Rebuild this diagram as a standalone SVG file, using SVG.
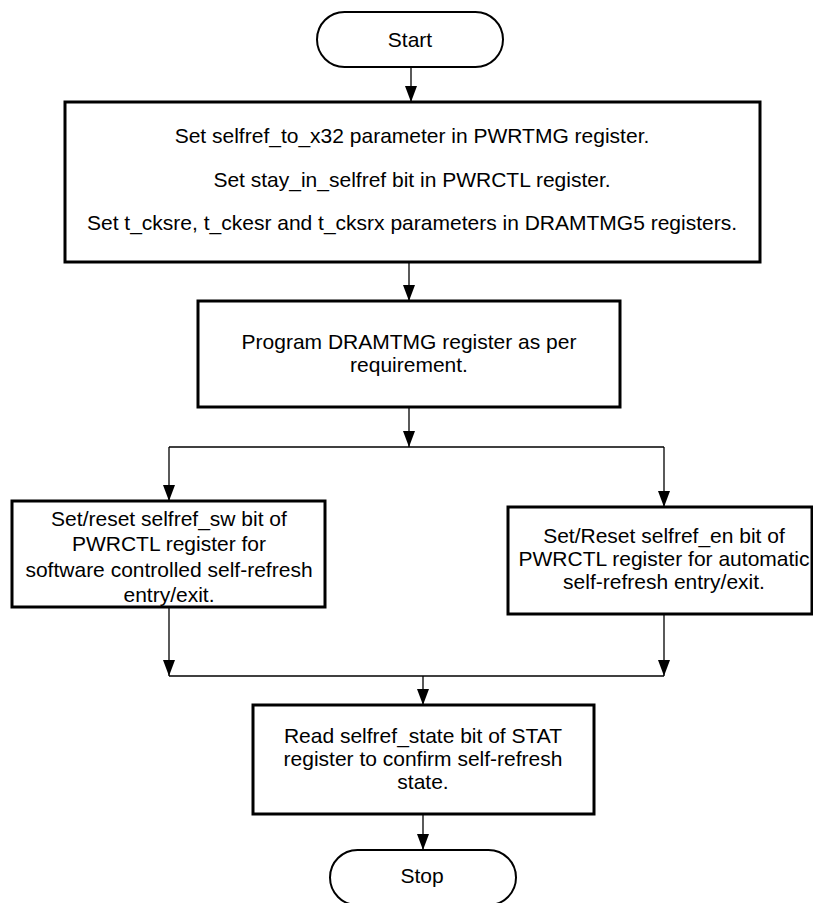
<svg xmlns="http://www.w3.org/2000/svg" width="813" height="903" viewBox="0 0 813 903">
<style>
.box{fill:#fff;stroke:#000;stroke-width:3}
.term{fill:#fff;stroke:#000;stroke-width:2}
.t{font-family:"Liberation Sans",Arial,sans-serif;font-size:21px;fill:#000;text-anchor:middle}
.c{fill:none;stroke:#000;stroke-width:1.3}
</style>
<defs>
<marker id="ah" markerWidth="16" markerHeight="12" refX="16" refY="6" orient="auto" markerUnits="userSpaceOnUse" viewBox="0 0 16 12">
<path d="M0,0 L16,6 L0,12 z" fill="#000"/>
</marker>
</defs>
<g id="connectors">
<line class="c" x1="411" y1="67" x2="411" y2="102" marker-end="url(#ah)"/>
<line class="c" x1="409" y1="262" x2="409" y2="301" marker-end="url(#ah)"/>
<line class="c" x1="409" y1="407" x2="409" y2="447" marker-end="url(#ah)"/>
<line class="c" x1="169" y1="447" x2="664" y2="447"/>
<line class="c" x1="169" y1="447" x2="169" y2="501" marker-end="url(#ah)"/>
<line class="c" x1="664" y1="447" x2="664" y2="507" marker-end="url(#ah)"/>
<line class="c" x1="169" y1="607" x2="169" y2="676" marker-end="url(#ah)"/>
<line class="c" x1="664" y1="614" x2="664" y2="676" marker-end="url(#ah)"/>
<line class="c" x1="169" y1="676" x2="664" y2="676"/>
<line class="c" x1="423" y1="676" x2="423" y2="705" marker-end="url(#ah)"/>
<line class="c" x1="423" y1="814" x2="423" y2="850" marker-end="url(#ah)"/>
</g>
<g id="start">
<rect class="term" x="317" y="12" width="186" height="55" rx="27.5" ry="27.5"/>
<text class="t" x="410" y="47">Start</text>
</g>
<g id="box1">
<rect class="box" x="65" y="102" width="695" height="160"/>
<text class="t" x="412" y="143">Set selfref_to_x32 parameter in PWRTMG register.</text>
<text class="t" x="412" y="187">Set stay_in_selfref bit in PWRCTL register.</text>
<text class="t" x="412" y="230">Set t_cksre, t_ckesr and t_cksrx parameters in DRAMTMG5 registers.</text>
</g>
<g id="box2">
<rect class="box" x="198" y="301" width="422" height="106"/>
<text class="t" x="409" y="349">Program DRAMTMG register as per</text>
<text class="t" x="409" y="372">requirement.</text>
</g>
<g id="box3">
<rect class="box" x="12" y="501" width="313" height="106"/>
<text class="t" x="169" y="526">Set/reset selfref_sw bit of</text>
<text class="t" x="169" y="551">PWRCTL register for</text>
<text class="t" x="169" y="577">software controlled self-refresh</text>
<text class="t" x="169" y="602">entry/exit.</text>
</g>
<g id="box4">
<rect class="box" x="508" y="507" width="304" height="107"/>
<text class="t" x="664" y="543">Set/Reset selfref_en bit of</text>
<text class="t" x="664" y="566">PWRCTL register for automatic</text>
<text class="t" x="664" y="589">self-refresh entry/exit.</text>
</g>
<g id="box5">
<rect class="box" x="253" y="705" width="341" height="109"/>
<text class="t" x="423" y="743">Read selfref_state bit of STAT</text>
<text class="t" x="423" y="766">register to confirm self-refresh</text>
<text class="t" x="423" y="789">state.</text>
</g>
<g id="stop">
<rect class="term" x="330" y="850" width="186" height="55" rx="27.5" ry="27.5"/>
<text class="t" x="422" y="883">Stop</text>
</g>
</svg>
